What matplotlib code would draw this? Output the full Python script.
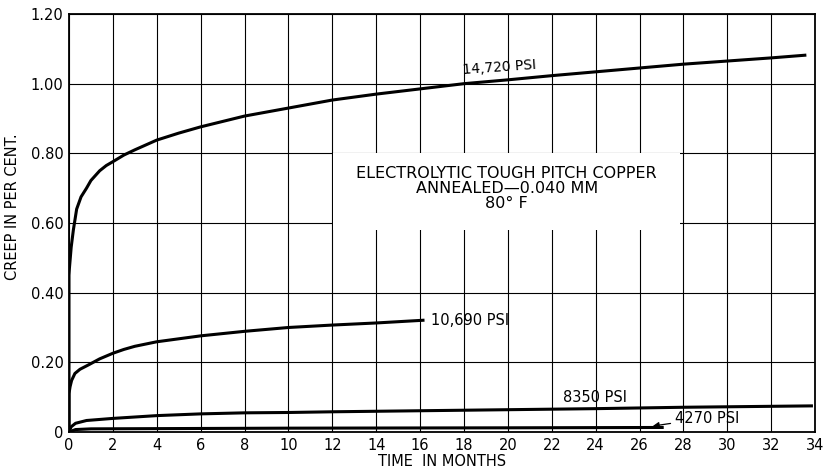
import matplotlib.pyplot as plt
from matplotlib.patches import Rectangle

# creep curves (months, creep %)
t_14720 = [0, 0, 0.02, 0.1, 0.2, 0.35, 0.55, 0.8, 1.0, 1.4, 1.7, 2, 2.5, 3, 4, 5, 6, 8, 10, 12, 14, 16, 18, 20, 22, 24, 26, 28, 30, 32, 33.6]
c_14720 = [0, 0.45, 0.47, 0.53, 0.58, 0.64, 0.675, 0.70, 0.722, 0.75, 0.765, 0.776, 0.795, 0.81, 0.838, 0.858, 0.876, 0.907, 0.93, 0.953, 0.97, 0.985, 1.0, 1.011, 1.023, 1.034, 1.045, 1.056, 1.065, 1.074, 1.082]

t_10690 = [0, 0, 0.05, 0.12, 0.27, 0.5, 0.9, 1.4, 2, 2.5, 3, 4, 6, 8, 10, 12, 14, 16.2]
c_10690 = [0, 0.11, 0.13, 0.148, 0.168, 0.18, 0.193, 0.21, 0.226, 0.237, 0.246, 0.259, 0.276, 0.289, 0.300, 0.307, 0.313, 0.321]

t_8350 = [0, 0.1, 0.3, 0.8, 2, 4, 6, 8, 10, 12, 16, 20, 24, 28, 33.9]
c_8350 = [0, 0.015, 0.025, 0.033, 0.039, 0.047, 0.052, 0.055, 0.056, 0.058, 0.061, 0.064, 0.067, 0.071, 0.075]

t_4270 = [0, 0.3, 1, 10, 20, 27.1]
c_4270 = [0, 0.007, 0.009, 0.011, 0.012, 0.013]

x_ticks = list(range(0, 35, 2))
y_ticks = [0, 0.2, 0.4, 0.6, 0.8, 1.0, 1.2]
y_tick_labels = ['0', '0.20', '0.40', '0.60', '0.80', '1.00', '1.20']

plt.rcParams['font.family'] = ['DejaVu Sans']

fig = plt.figure(figsize=(8.3, 4.73), dpi=100)
ax = fig.add_axes([0.0831, 0.0867, 0.899, 0.8837])

ax.set_xlim(0, 34)
ax.set_ylim(0, 1.2)
ax.set_xticks(x_ticks)
ax.set_yticks(y_ticks)
ax.set_yticklabels(y_tick_labels)
ax.tick_params(length=0, labelsize=10.5, pad=4)
ax.grid(True, color='black', linewidth=0.8)
ax.set_axisbelow(True)
for s in ax.spines.values():
    s.set_linewidth(1.3)

# white label panel hides the grid behind the title text
ax.add_patch(Rectangle((12.05, 0.58), 15.8, 0.22, facecolor='white', edgecolor='none', zorder=1.5))

for t, c in [(t_14720, c_14720), (t_10690, c_10690), (t_8350, c_8350), (t_4270, c_4270)]:
    ax.plot(t, c, color='black', linewidth=2.2, solid_capstyle='butt', solid_joinstyle='round', zorder=3)

ax.text(19.6, 1.048, '14,720 PSI', fontsize=10, ha='center', va='center', rotation=4)
ax.text(16.5, 0.321, '10,690 PSI', fontsize=10.5, ha='left', va='center')
ax.text(22.5, 0.10, '8350 PSI', fontsize=10.5, ha='left', va='center')
ax.annotate('4270 PSI', xy=(26.6, 0.017), xytext=(27.6, 0.04), fontsize=10.5, ha='left', va='center',
            arrowprops=dict(arrowstyle='-|>', color='black', lw=0.9, shrinkA=1, shrinkB=0, mutation_scale=9))

ax.text(19.95, 0.70, 'ELECTROLYTIC TOUGH PITCH COPPER\nANNEALED\u20140.040 MM\n80\u00b0 F',
        fontsize=11.5, ha='center', va='center', linespacing=1.0, zorder=4)

ax.set_xlabel('TIME  IN MONTHS', fontsize=10.5, labelpad=1)
ax.set_ylabel('CREEP IN PER CENT.', fontsize=10.5)
ax.yaxis.set_label_coords(-0.066, 0.54)

fig.savefig('out.png', dpi=100)
